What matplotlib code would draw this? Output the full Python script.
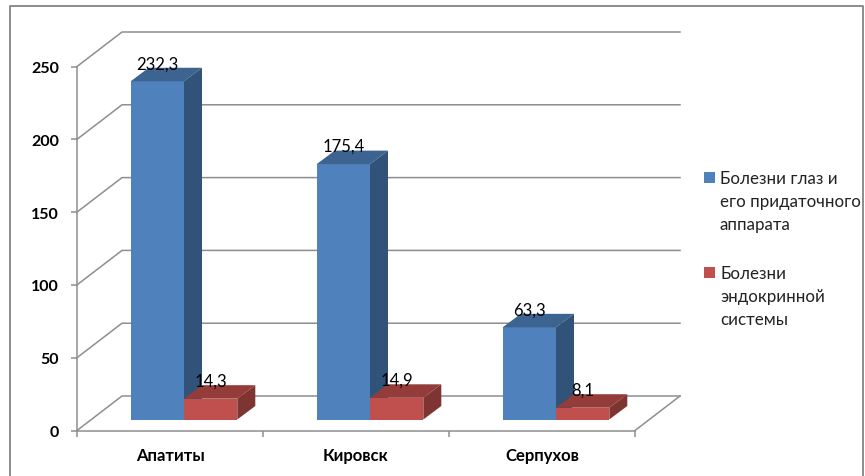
import matplotlib
matplotlib.use("Agg")
import matplotlib.pyplot as plt
from matplotlib.patches import Rectangle

plt.rcParams['font.family'] = ['Lato', 'Noto Sans', 'DejaVu Sans']

cities = ["Апатиты", "Кировск", "Серпухов"]
eye = [232.3, 175.4, 63.3]
endo = [14.3, 14.9, 8.1]
eye_labels = ["232,3", "175,4", "63,3"]
endo_labels = ["14,3", "14,9", "8,1"]
y_ticks = [0, 50, 100, 150, 200, 250]
legend_names = [["Болезни глаз и", "его придаточного", "аппарата"],
                ["Болезни", "эндокринной", "системы"]]

W, H = 865, 477
GRID = "#8e8e8e"
blue = ("#4f81bd", "#3d6390", "#325379")
red = ("#c0504d", "#943c3a", "#7e3532")

# pixels per data unit, the fake 3d is done with these offsets
ppx = 186.0
ppy = 364.0 / 250
wall_dx, wall_dy = 45 / ppx, 34.5 / ppy
base_dx, base_dy = 14 / ppx, 11 / ppy
depth_dx, depth_dy = 18 / ppx, 13.5 / ppy
bar_w = 53.3 / ppx

fig = plt.figure(figsize=(W / 100, H / 100), dpi=100)
ax = fig.add_axes([77 / W, 1 - 431.5 / H, 558 / W, 364 / H])
ax.set_xlim(0, 3)
ax.set_ylim(0, 250)
ax.patch.set_alpha(0)

for s in ["top", "right"]:
    ax.spines[s].set_visible(False)
for s in ["left", "bottom"]:
    ax.spines[s].set_color(GRID)
    ax.spines[s].set_linewidth(1.1)

# walls
for v in y_ticks:
    ax.plot([0, wall_dx, 3 + wall_dx], [v, v + wall_dy, v + wall_dy],
            color=GRID, lw=1.1, clip_on=False, zorder=1)
ax.plot([3, 3 + wall_dx], [0, wall_dy], color=GRID, lw=1.1, clip_on=False, zorder=1)


def draw_bar(x0, val, cols, label):
    y0 = base_dy
    top = y0 + val
    ax.bar(x0, val, bar_w, bottom=y0, align="edge", color=cols[0], clip_on=False, zorder=3)
    x1 = x0 + bar_w
    ax.fill([x0, x1, x1 + depth_dx, x0 + depth_dx],
            [top, top, top + depth_dy, top + depth_dy],
            color=cols[1], lw=0, clip_on=False, zorder=3)
    ax.fill([x1, x1 + depth_dx, x1 + depth_dx, x1],
            [y0, y0 + depth_dy, top + depth_dy, top],
            color=cols[2], lw=0, clip_on=False, zorder=3)
    ax.text(x0 + bar_w / 2, top + 18 / ppy, label, ha="center", va="center",
            fontsize=12, color="black", zorder=5)


for i in range(len(cities)):
    left = i + 0.5 + base_dx - bar_w
    draw_bar(left, eye[i], blue, eye_labels[i])
    draw_bar(left + bar_w, endo[i], red, endo_labels[i])

ax.set_yticks(y_ticks)
ax.set_xticks([0, 1, 2, 3])
ax.set_xticklabels([])
ax.set_xticks([0.5, 1.5, 2.5], minor=True)
ax.set_xticklabels(cities, minor=True, fontweight="bold", fontsize=12)
ax.tick_params(axis="x", which="major", length=4.5, width=1.1, color=GRID)
ax.tick_params(axis="x", which="minor", length=0, pad=12)
ax.tick_params(axis="y", length=4.5, width=1.1, color=GRID, pad=8.5, labelsize=11.5)
for t in ax.get_yticklabels():
    t.set_fontweight("bold")

# legend
for names, col, y in zip(legend_names, [blue[0], red[0]], [178, 273]):
    fig.add_artist(Rectangle((704 / W, 1 - (y + 5.5) / H), 11 / W, 10.5 / H,
                             transform=fig.transFigure, color=col, lw=0))
    for k, line in enumerate(names):
        fig.text(720 / W, 1 - (y + 1 + k * 23) / H, line, fontsize=12.2, va="center",
                 color="#222222")

# outer frame, no bottom edge in the screenshot
fx = [10 / W, 10 / W, 863 / W, 863 / W]
fy = [0, 1 - 6.5 / H, 1 - 6.5 / H, 0]
fig.add_artist(plt.Line2D(fx, fy, color="#8c8c8c", lw=1.4, transform=fig.transFigure))

fig.savefig("out.png", dpi=100)
